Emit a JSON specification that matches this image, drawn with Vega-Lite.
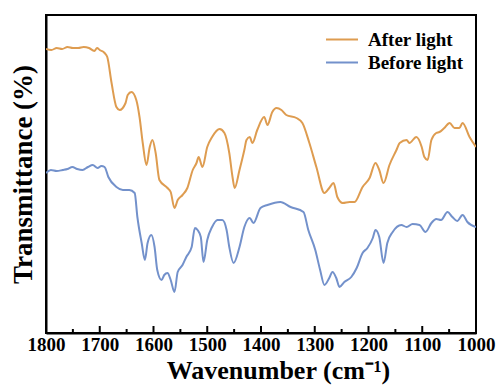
{
  "$schema": "https://vega.github.io/schema/vega-lite/v6.json",
  "width": 430,
  "height": 318,
  "autosize": "none",
  "padding": {"left": 46, "top": 15, "right": 24, "bottom": 55},
  "background": "white",
  "config": {
    "view": {"stroke": "black", "strokeWidth": 2},
    "font": "Liberation Serif"
  },
  "datasets": {
    "majorTicks": [
      {"wn": 1800}, {"wn": 1700}, {"wn": 1600}, {"wn": 1500}, {"wn": 1400},
      {"wn": 1300}, {"wn": 1200}, {"wn": 1100}, {"wn": 1000}
    ],
    "minorTicks": [
      {"wn": 1750}, {"wn": 1650}, {"wn": 1550}, {"wn": 1450},
      {"wn": 1350}, {"wn": 1250}, {"wn": 1150}, {"wn": 1050}
    ],
    "spectra": [
      {"wn": 1800, "T": 284, "series": "After light"},
      {"wn": 1790, "T": 283, "series": "After light"},
      {"wn": 1780, "T": 285, "series": "After light"},
      {"wn": 1770, "T": 284, "series": "After light"},
      {"wn": 1760, "T": 286, "series": "After light"},
      {"wn": 1750, "T": 285, "series": "After light"},
      {"wn": 1740, "T": 285, "series": "After light"},
      {"wn": 1730, "T": 286, "series": "After light"},
      {"wn": 1720, "T": 285, "series": "After light"},
      {"wn": 1710, "T": 282, "series": "After light"},
      {"wn": 1705, "T": 285, "series": "After light"},
      {"wn": 1700, "T": 283, "series": "After light"},
      {"wn": 1691, "T": 280, "series": "After light"},
      {"wn": 1686, "T": 276, "series": "After light"},
      {"wn": 1678, "T": 250, "series": "After light"},
      {"wn": 1669, "T": 226, "series": "After light"},
      {"wn": 1663, "T": 223, "series": "After light"},
      {"wn": 1652, "T": 230, "series": "After light"},
      {"wn": 1648, "T": 238, "series": "After light"},
      {"wn": 1641, "T": 241, "series": "After light"},
      {"wn": 1632, "T": 233, "series": "After light"},
      {"wn": 1626, "T": 216, "series": "After light"},
      {"wn": 1620, "T": 190, "series": "After light"},
      {"wn": 1613, "T": 168, "series": "After light"},
      {"wn": 1607, "T": 186, "series": "After light"},
      {"wn": 1602, "T": 193, "series": "After light"},
      {"wn": 1596, "T": 180, "series": "After light"},
      {"wn": 1589, "T": 153, "series": "After light"},
      {"wn": 1574, "T": 145, "series": "After light"},
      {"wn": 1568, "T": 141, "series": "After light"},
      {"wn": 1561, "T": 125, "series": "After light"},
      {"wn": 1555, "T": 133, "series": "After light"},
      {"wn": 1546, "T": 138, "series": "After light"},
      {"wn": 1537, "T": 145, "series": "After light"},
      {"wn": 1527, "T": 163, "series": "After light"},
      {"wn": 1520, "T": 170, "series": "After light"},
      {"wn": 1516, "T": 176, "series": "After light"},
      {"wn": 1509, "T": 166, "series": "After light"},
      {"wn": 1500, "T": 186, "series": "After light"},
      {"wn": 1491, "T": 196, "series": "After light"},
      {"wn": 1477, "T": 204, "series": "After light"},
      {"wn": 1468, "T": 200, "series": "After light"},
      {"wn": 1459, "T": 180, "series": "After light"},
      {"wn": 1453, "T": 156, "series": "After light"},
      {"wn": 1449, "T": 145, "series": "After light"},
      {"wn": 1440, "T": 163, "series": "After light"},
      {"wn": 1431, "T": 183, "series": "After light"},
      {"wn": 1427, "T": 193, "series": "After light"},
      {"wn": 1421, "T": 196, "series": "After light"},
      {"wn": 1416, "T": 190, "series": "After light"},
      {"wn": 1407, "T": 203, "series": "After light"},
      {"wn": 1394, "T": 216, "series": "After light"},
      {"wn": 1388, "T": 208, "series": "After light"},
      {"wn": 1379, "T": 221, "series": "After light"},
      {"wn": 1371, "T": 225, "series": "After light"},
      {"wn": 1362, "T": 223, "series": "After light"},
      {"wn": 1353, "T": 218, "series": "After light"},
      {"wn": 1334, "T": 215, "series": "After light"},
      {"wn": 1323, "T": 210, "series": "After light"},
      {"wn": 1310, "T": 190, "series": "After light"},
      {"wn": 1297, "T": 166, "series": "After light"},
      {"wn": 1282, "T": 140, "series": "After light"},
      {"wn": 1273, "T": 145, "series": "After light"},
      {"wn": 1265, "T": 150, "series": "After light"},
      {"wn": 1258, "T": 136, "series": "After light"},
      {"wn": 1248, "T": 130, "series": "After light"},
      {"wn": 1235, "T": 131, "series": "After light"},
      {"wn": 1226, "T": 131, "series": "After light"},
      {"wn": 1211, "T": 146, "series": "After light"},
      {"wn": 1198, "T": 155, "series": "After light"},
      {"wn": 1187, "T": 170, "series": "After light"},
      {"wn": 1180, "T": 163, "series": "After light"},
      {"wn": 1172, "T": 150, "series": "After light"},
      {"wn": 1161, "T": 168, "series": "After light"},
      {"wn": 1148, "T": 183, "series": "After light"},
      {"wn": 1142, "T": 190, "series": "After light"},
      {"wn": 1129, "T": 193, "series": "After light"},
      {"wn": 1124, "T": 190, "series": "After light"},
      {"wn": 1111, "T": 196, "series": "After light"},
      {"wn": 1101, "T": 186, "series": "After light"},
      {"wn": 1096, "T": 176, "series": "After light"},
      {"wn": 1090, "T": 173, "series": "After light"},
      {"wn": 1083, "T": 193, "series": "After light"},
      {"wn": 1074, "T": 200, "series": "After light"},
      {"wn": 1068, "T": 201, "series": "After light"},
      {"wn": 1059, "T": 205, "series": "After light"},
      {"wn": 1049, "T": 210, "series": "After light"},
      {"wn": 1040, "T": 205, "series": "After light"},
      {"wn": 1031, "T": 205, "series": "After light"},
      {"wn": 1025, "T": 210, "series": "After light"},
      {"wn": 1012, "T": 196, "series": "After light"},
      {"wn": 1000, "T": 186, "series": "After light"},

      {"wn": 1800, "T": 160, "series": "Before light"},
      {"wn": 1791, "T": 163, "series": "Before light"},
      {"wn": 1780, "T": 162, "series": "Before light"},
      {"wn": 1769, "T": 163, "series": "Before light"},
      {"wn": 1760, "T": 164, "series": "Before light"},
      {"wn": 1751, "T": 166, "series": "Before light"},
      {"wn": 1742, "T": 164, "series": "Before light"},
      {"wn": 1732, "T": 163, "series": "Before light"},
      {"wn": 1722, "T": 166, "series": "Before light"},
      {"wn": 1713, "T": 168, "series": "Before light"},
      {"wn": 1704, "T": 165, "series": "Before light"},
      {"wn": 1697, "T": 167, "series": "Before light"},
      {"wn": 1691, "T": 166, "series": "Before light"},
      {"wn": 1684, "T": 156, "series": "Before light"},
      {"wn": 1669, "T": 146, "series": "Before light"},
      {"wn": 1657, "T": 143, "series": "Before light"},
      {"wn": 1645, "T": 143, "series": "Before light"},
      {"wn": 1635, "T": 140, "series": "Before light"},
      {"wn": 1630, "T": 116, "series": "Before light"},
      {"wn": 1622, "T": 90, "series": "Before light"},
      {"wn": 1616, "T": 73, "series": "Before light"},
      {"wn": 1611, "T": 90, "series": "Before light"},
      {"wn": 1604, "T": 98, "series": "Before light"},
      {"wn": 1598, "T": 86, "series": "Before light"},
      {"wn": 1593, "T": 63, "series": "Before light"},
      {"wn": 1585, "T": 53, "series": "Before light"},
      {"wn": 1580, "T": 58, "series": "Before light"},
      {"wn": 1574, "T": 60, "series": "Before light"},
      {"wn": 1568, "T": 53, "series": "Before light"},
      {"wn": 1561, "T": 41, "series": "Before light"},
      {"wn": 1555, "T": 61, "series": "Before light"},
      {"wn": 1546, "T": 68, "series": "Before light"},
      {"wn": 1539, "T": 76, "series": "Before light"},
      {"wn": 1529, "T": 86, "series": "Before light"},
      {"wn": 1523, "T": 105, "series": "Before light"},
      {"wn": 1518, "T": 103, "series": "Before light"},
      {"wn": 1512, "T": 96, "series": "Before light"},
      {"wn": 1507, "T": 71, "series": "Before light"},
      {"wn": 1500, "T": 93, "series": "Before light"},
      {"wn": 1491, "T": 106, "series": "Before light"},
      {"wn": 1481, "T": 113, "series": "Before light"},
      {"wn": 1472, "T": 113, "series": "Before light"},
      {"wn": 1464, "T": 103, "series": "Before light"},
      {"wn": 1459, "T": 86, "series": "Before light"},
      {"wn": 1451, "T": 70, "series": "Before light"},
      {"wn": 1440, "T": 86, "series": "Before light"},
      {"wn": 1431, "T": 106, "series": "Before light"},
      {"wn": 1421, "T": 115, "series": "Before light"},
      {"wn": 1414, "T": 110, "series": "Before light"},
      {"wn": 1401, "T": 125, "series": "Before light"},
      {"wn": 1388, "T": 128, "series": "Before light"},
      {"wn": 1364, "T": 131, "series": "Before light"},
      {"wn": 1345, "T": 126, "series": "Before light"},
      {"wn": 1321, "T": 121, "series": "Before light"},
      {"wn": 1312, "T": 103, "series": "Before light"},
      {"wn": 1299, "T": 83, "series": "Before light"},
      {"wn": 1290, "T": 63, "series": "Before light"},
      {"wn": 1282, "T": 48, "series": "Before light"},
      {"wn": 1273, "T": 55, "series": "Before light"},
      {"wn": 1267, "T": 61, "series": "Before light"},
      {"wn": 1260, "T": 55, "series": "Before light"},
      {"wn": 1254, "T": 46, "series": "Before light"},
      {"wn": 1245, "T": 51, "series": "Before light"},
      {"wn": 1232, "T": 56, "series": "Before light"},
      {"wn": 1222, "T": 65, "series": "Before light"},
      {"wn": 1211, "T": 80, "series": "Before light"},
      {"wn": 1202, "T": 85, "series": "Before light"},
      {"wn": 1192, "T": 95, "series": "Before light"},
      {"wn": 1187, "T": 103, "series": "Before light"},
      {"wn": 1180, "T": 96, "series": "Before light"},
      {"wn": 1172, "T": 70, "series": "Before light"},
      {"wn": 1165, "T": 90, "series": "Before light"},
      {"wn": 1155, "T": 101, "series": "Before light"},
      {"wn": 1139, "T": 108, "series": "Before light"},
      {"wn": 1129, "T": 106, "series": "Before light"},
      {"wn": 1118, "T": 109, "series": "Before light"},
      {"wn": 1105, "T": 108, "series": "Before light"},
      {"wn": 1094, "T": 101, "series": "Before light"},
      {"wn": 1083, "T": 110, "series": "Before light"},
      {"wn": 1074, "T": 114, "series": "Before light"},
      {"wn": 1065, "T": 113, "series": "Before light"},
      {"wn": 1053, "T": 121, "series": "Before light"},
      {"wn": 1044, "T": 116, "series": "Before light"},
      {"wn": 1035, "T": 112, "series": "Before light"},
      {"wn": 1025, "T": 118, "series": "Before light"},
      {"wn": 1016, "T": 111, "series": "Before light"},
      {"wn": 1000, "T": 106, "series": "Before light"}
    ]
  },
  "layer": [
    {
      "data": {"name": "spectra"},
      "mark": {"type": "line", "strokeWidth": 2, "interpolate": "monotone", "clip": true},
      "encoding": {
        "x": {
          "field": "wn",
          "type": "quantitative",
          "scale": {"domain": [1800, 1000], "nice": false, "zero": false},
          "axis": {
            "orient": "bottom",
            "values": [1800, 1700, 1600, 1500, 1400, 1300, 1200, 1100, 1000],
            "format": "d",
            "grid": false,
            "ticks": false,
            "domainColor": "black",
            "domainWidth": 2,
            "labelFont": "Liberation Serif",
            "labelFontWeight": "bold",
            "labelFontSize": 19,
            "labelColor": "black",
            "labelPadding": 2,
            "labelFlush": false,
            "labelOverlap": false,
            "title": "Wavenumber (cm⁻¹)",
            "titleFont": "Liberation Serif",
            "titleFontWeight": "bold",
            "titleFontSize": 26,
            "titleColor": "black",
            "titleX": 232,
            "titlePadding": 3
          }
        },
        "y": {
          "field": "T",
          "type": "quantitative",
          "scale": {"domain": [0, 318], "nice": false, "zero": false},
          "axis": {
            "labels": false,
            "ticks": false,
            "grid": false,
            "domainColor": "black",
            "domainWidth": 2,
            "title": "Transmittance (%)",
            "titleFont": "Liberation Serif",
            "titleFontWeight": "bold",
            "titleFontSize": 27,
            "titleColor": "black",
            "titlePadding": 9
          }
        },
        "color": {
          "field": "series",
          "type": "nominal",
          "scale": {"domain": ["After light", "Before light"], "range": ["#DE9C50", "#7391CB"]},
          "legend": {
            "title": null,
            "orient": "none",
            "legendX": 279,
            "legendY": 14,
            "padding": 0,
            "symbolType": "stroke",
            "symbolSize": 1024,
            "symbolStrokeWidth": 2,
            "clipHeight": 21,
            "labelFont": "Liberation Serif",
            "labelFontWeight": "bold",
            "labelFontSize": 19,
            "labelColor": "black",
            "labelOffset": 9,
            "rowPadding": 2
          }
        }
      }
    },
    {
      "data": {"name": "majorTicks"},
      "mark": {"type": "rule", "color": "black", "strokeWidth": 2},
      "encoding": {
        "x": {"field": "wn", "type": "quantitative"},
        "y": {"datum": 0},
        "y2": {"datum": 7}
      }
    },
    {
      "data": {"name": "minorTicks"},
      "mark": {"type": "rule", "color": "black", "strokeWidth": 2},
      "encoding": {
        "x": {"field": "wn", "type": "quantitative"},
        "y": {"datum": 0},
        "y2": {"datum": 4}
      }
    }
  ]
}
